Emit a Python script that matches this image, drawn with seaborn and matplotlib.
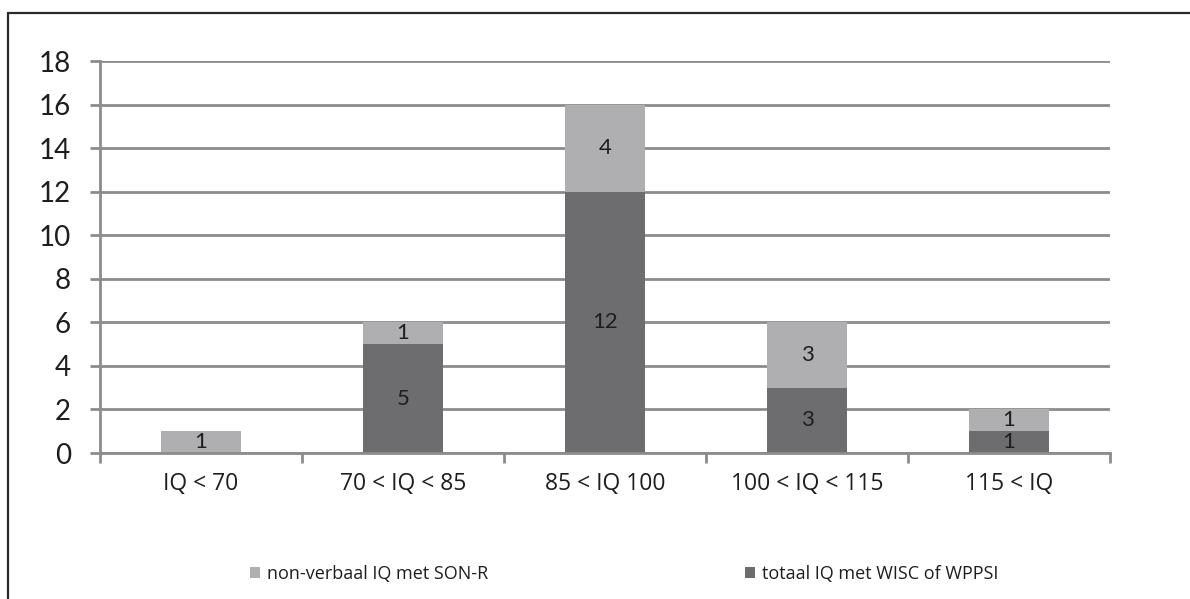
import matplotlib
matplotlib.use("Agg")
import matplotlib.pyplot as plt
from matplotlib.patches import Patch
from matplotlib.lines import Line2D
import seaborn as sns
import pandas as pd

categories = ["IQ < 70", "70 < IQ < 85", "85 < IQ 100", "100 < IQ < 115", "115 < IQ"]
totaal_wisc = [0, 5, 12, 3, 1]        # totaal IQ met WISC of WPPSI
nonverbaal_son = [1, 1, 4, 3, 1]      # non-verbaal IQ met SON-R
y_ticks = [0, 2, 4, 6, 8, 10, 12, 14, 16, 18]

legend_labels = ["non-verbaal IQ met SON-R", "totaal IQ met WISC of WPPSI"]

LIGHT = "#afafb1"
DARK = "#6d6d6f"
AXIS = "#8c8c8c"
TEXT = "#1e1e1e"

sns.set_theme(style="white")
plt.rcParams["font.family"] = ["Lato", "DejaVu Sans"]

df = pd.DataFrame({
    "categorie": categories,
    "totaal": totaal_wisc,
    "nonverbaal": nonverbaal_son,
})
df["som"] = df["totaal"] + df["nonverbaal"]

fig = plt.figure(figsize=(11.9, 5.99), dpi=100)
ax = fig.add_axes([100 / 1190, 1 - 453 / 599, 1010 / 1190, 392 / 599])

# stacked bars: full height in light grey, WISC/WPPSI part drawn on top from zero
sns.barplot(data=df, x="categorie", y="som", color=LIGHT, width=0.4,
            saturation=1, ax=ax, zorder=3)
sns.barplot(data=df, x="categorie", y="totaal", color=DARK, width=0.4,
            saturation=1, ax=ax, zorder=4)
for p in ax.patches:
    p.set_edgecolor("none")
    p.set_linewidth(0)

# segment value labels
for i, (t, n) in enumerate(zip(totaal_wisc, nonverbaal_son)):
    if t > 0:
        ax.text(i, t / 2, str(t), ha="center", va="center", fontsize=16,
                color=TEXT, zorder=5)
    if n > 0:
        ax.text(i, t + n / 2, str(n), ha="center", va="center", fontsize=16,
                color=TEXT, zorder=5)

ax.set_xlim(-0.5, len(categories) - 0.5)
ax.set_ylim(0, 18)
ax.set_yticks(y_ticks)
ax.set_yticklabels([str(v) for v in y_ticks])
ax.set_xlabel("")
ax.set_ylabel("")

ax.yaxis.grid(True, color=AXIS, linewidth=2, zorder=0)
ax.set_axisbelow(True)
for side in ["top", "right"]:
    ax.spines[side].set_visible(False)
for side in ["left", "bottom"]:
    ax.spines[side].set_color(AXIS)
    ax.spines[side].set_linewidth(2)
    ax.spines[side].set_zorder(6)

ax.tick_params(axis="y", which="major", length=7, width=2, color=AXIS,
               pad=14, labelsize=20, labelcolor=TEXT, left=True)
ax.tick_params(axis="x", which="major", length=0, pad=14, labelsize=16.5,
               labelcolor=TEXT)
ax.set_xticks([i - 0.5 for i in range(len(categories) + 1)], minor=True)
ax.tick_params(axis="x", which="minor", length=7, width=2, color=AXIS,
               bottom=True)
for lbl in ax.get_xticklabels():
    lbl.set_family(["Open Sans", "DejaVu Sans"])

# outer frame
fig.add_artist(Line2D([8 / 1190, 8 / 1190], [0, 1 - 13 / 599],
                      transform=fig.transFigure, color="#2a2a2a", linewidth=1.6))
fig.add_artist(Line2D([8 / 1190, 1], [1 - 13 / 599, 1 - 13 / 599],
                      transform=fig.transFigure, color="#2a2a2a", linewidth=1.6))

handles = [Patch(facecolor=LIGHT, edgecolor="none"),
           Patch(facecolor=DARK, edgecolor="none")]
fig.legend(handles, legend_labels, loc="center left",
           bbox_to_anchor=(250 / 1190, 1 - 574 / 599), ncol=2, frameon=False,
           borderaxespad=0, borderpad=0,
           handlelength=0.55, handleheight=0.55, handletextpad=0.39,
           columnspacing=14.2,
           prop={"family": ["Open Sans", "DejaVu Sans"], "size": 13},
           labelcolor=TEXT)

fig.savefig("out.png", dpi=100)
